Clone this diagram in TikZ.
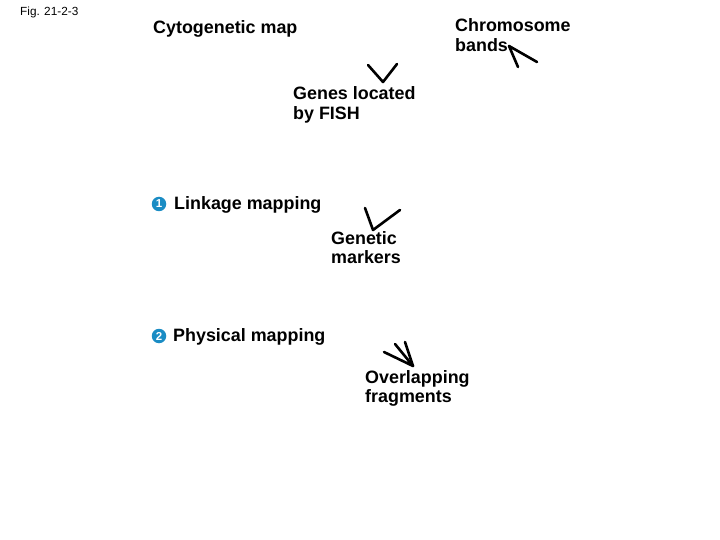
\documentclass[tikz,border=0pt]{standalone}
\usepackage{fontspec}
\setmainfont{Liberation Sans}
\definecolor{stepblue}{HTML}{1A8CC4}
\begin{document}
\begin{tikzpicture}[x=1pt,y=-1pt,
  lbl/.style={font=\bfseries\fontsize{17.9}{19.5}\selectfont, anchor=west, inner sep=0pt, align=left},
  num/.style={circle, fill=stepblue, text=white, inner sep=0pt, minimum size=14.5pt, font=\bfseries\fontsize{11.5}{11.5}\selectfont},
  tick/.style={line width=2.6pt, line cap=round, line join=round}]
\useasboundingbox (0,0) rectangle (720,540);
\node[anchor=west, inner sep=0pt, font=\fontsize{11.8}{13}\selectfont] (fig) at (20,12) {Fig. 21-2-3};
\node[lbl] (cyto) at (153,29) {Cytogenetic map};
\node[lbl, anchor=north west] (chrom) at (455,18.5) {Chromosome\\bands};
\node[lbl, anchor=north west] (genes) at (293,86.5) {Genes located\\by FISH};
\node[num] (n1) at (159,204) {1};
\node[lbl] (link) at (174,205) {Linkage mapping};
\node[lbl, anchor=north west] (gm) at (331,231) {Genetic\\markers};
\node[num] (n2) at (159,336) {2};
\node[lbl] (phys) at (173,337) {Physical mapping};
\node[lbl, anchor=north west] (ov) at (365,370) {Overlapping\\fragments};
% chromosome bands marks
\coordinate (ca) at (509,46);
\coordinate (c1) at (518,67);
\coordinate (c2) at (537,62);
\draw[tick] (c1) -- (ca) -- (c2);
% genes V
\coordinate (ga) at (383,82);
\coordinate (g1) at (368,65);
\coordinate (g2) at (397,64);
\draw[tick] (g1) -- (ga) -- (g2);
% genetic markers V
\coordinate (ma) at (373,230);
\coordinate (m1) at (365,208);
\coordinate (m2) at (400,210);
\draw[tick] (m1) -- (ma) -- (m2);
% overlapping fragments fan
\coordinate (oa) at (413,366);
\coordinate (o1) at (384,352);
\coordinate (o2) at (395,344);
\coordinate (o3) at (405,342);
\draw[tick] (o1) -- (oa) -- (o2);
\draw[tick] (o3) -- (oa);
\end{tikzpicture}
\end{document}
